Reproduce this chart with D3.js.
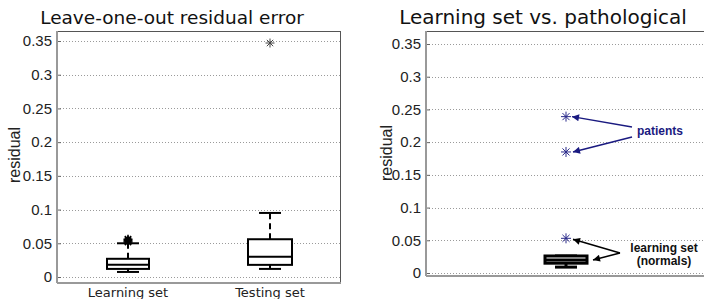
<!DOCTYPE html>
<html>
<head>
<meta charset="utf-8">
<script src="https://cdn.jsdelivr.net/npm/d3@7"></script>
<style>
  body { margin: 0; background: #fff; }
  svg { display: block; }
  .tick text { font-family: "Liberation Sans", Arial, sans-serif; font-size: 15px; fill: #222; }
  .title { font-family: "DejaVu Sans", sans-serif; fill: #111; }
  .ylab { font-family: "Liberation Sans", Arial, sans-serif; font-size: 16px; fill: #222; }
  .xlab { font-family: "DejaVu Sans", sans-serif; font-size: 13px; fill: #222; }
  .note { font-family: "Liberation Sans", Arial, sans-serif; font-size: 12px; font-weight: bold; }
</style>
</head>
<body>
<svg id="chart" width="704" height="299"></svg>
<script>
// left panel: leave-one-out residuals, [lowWhisker, q1, median, q3, highWhisker]
var categories = ["Learning set", "Testing set"];
var learnBox = [0.0075, 0.012, 0.018, 0.027, 0.050];
var testBox = [0.012, 0.018, 0.030, 0.056, 0.095];
var learnOutliers = [0.052, 0.054, 0.056];
var testOutliers = [0.347];

// right panel: learning set vs pathological
var normalsBox = [0.009, 0.015, 0.020, 0.026, 0.026];
var normalsOutliers = [0.053];
var patients = [0.239, 0.185];

var yTicks = [0, 0.05, 0.1, 0.15, 0.2, 0.25, 0.3, 0.35];

var svg = d3.select("#chart");

function star(g, cx, cy, r, color, sw) {
  var d = "";
  for (var i = 0; i < 4; i++) {
    var a = i * Math.PI / 4;
    d += "M" + (cx - r * Math.cos(a)) + "," + (cy - r * Math.sin(a)) +
         "L" + (cx + r * Math.cos(a)) + "," + (cy + r * Math.sin(a));
  }
  g.append("path").attr("d", d).attr("stroke", color).attr("stroke-width", sw).attr("fill", "none");
}

function panel(opt) {
  var g = svg.append("g");
  var x = d3.scaleLinear().domain(opt.xdom).range([opt.left, opt.right]);
  var y = d3.scaleLinear().domain([0, 0.35]).range([opt.y0, opt.y35]);

  // grid
  g.selectAll(".grid").data(yTicks).enter().append("line")
    .attr("x1", opt.left).attr("x2", opt.right)
    .attr("y1", function(d){ return Math.round(y(d)) + 0.5; })
    .attr("y2", function(d){ return Math.round(y(d)) + 0.5; })
    .attr("stroke", "#9a9a9a").attr("stroke-width", 1).attr("stroke-dasharray", "1,2");

  // axis
  var ax = g.append("g").attr("transform", "translate(" + opt.left + ",0)")
    .call(d3.axisLeft(y).tickValues(yTicks).tickFormat(d3.format("~g")).tickSizeInner(-4).tickSizeOuter(0).tickPadding(5));
  ax.select(".domain").remove();
  ax.selectAll(".tick line").attr("stroke", "#666");

  // box frame
  g.append("rect").attr("x", opt.left + 0.5).attr("y", opt.top + 0.5)
    .attr("width", opt.right - opt.left - 1).attr("height", opt.bottom - opt.top - 1)
    .attr("fill", "none").attr("stroke", "#555").attr("stroke-width", 1);
  g.append("line").attr("x1", opt.left).attr("x2", opt.left)
    .attr("y1", opt.top).attr("y2", opt.bottom).attr("stroke", "#999").attr("stroke-width", 2);
  g.append("line").attr("x1", opt.left).attr("x2", opt.right)
    .attr("y1", opt.bottom).attr("y2", opt.bottom).attr("stroke", "#999").attr("stroke-width", 2);

  g.append("text").attr("class", "title").attr("x", opt.titleX).attr("y", 24)
    .attr("font-size", opt.titleSize).attr("text-anchor", "middle").text(opt.title);
  g.append("text").attr("class", "ylab")
    .attr("transform", "translate(" + opt.ylabX + "," + opt.ylabY + ") rotate(-90)")
    .attr("text-anchor", "middle").text("residual");
  return { g: g, x: x, y: y };
}

function boxplot(p, pos, b, half, cap, sw) {
  var cx = p.x(pos), y = p.y;
  p.g.append("line").attr("x1", cx).attr("x2", cx).attr("y1", y(b[3])).attr("y2", y(b[4]))
    .attr("stroke", "#000").attr("stroke-width", sw).attr("stroke-dasharray", "6,4");
  p.g.append("line").attr("x1", cx).attr("x2", cx).attr("y1", y(b[1])).attr("y2", y(b[0]))
    .attr("stroke", "#000").attr("stroke-width", sw).attr("stroke-dasharray", "6,4");
  [b[0], b[4]].forEach(function(v){
    p.g.append("line").attr("x1", cx - cap).attr("x2", cx + cap).attr("y1", y(v)).attr("y2", y(v))
      .attr("stroke", "#000").attr("stroke-width", sw);
  });
  p.g.append("rect").attr("x", cx - half).attr("y", y(b[3])).attr("width", 2 * half)
    .attr("height", y(b[1]) - y(b[3])).attr("fill", "#fff").attr("stroke", "#000").attr("stroke-width", sw);
  p.g.append("line").attr("x1", cx - half).attr("x2", cx + half).attr("y1", y(b[2])).attr("y2", y(b[2]))
    .attr("stroke", "#000").attr("stroke-width", sw);
}

// left panel
var L = panel({ left: 57, right: 341, top: 31, bottom: 283, y0: 277, y35: 41,
  xdom: [0.5, 2.5], title: "Leave-one-out residual error", titleX: 172, titleSize: 18.5,
  ylabX: 20, ylabY: 155 });
boxplot(L, 1, learnBox, 21, 11, 2);
boxplot(L, 2, testBox, 22, 11, 2);
learnOutliers.forEach(function(v){ star(L.g, L.x(1), L.y(v), 4.5, "#000", 1.6); });
testOutliers.forEach(function(v){ star(L.g, L.x(2), L.y(v), 4.5, "#444", 1); });
categories.forEach(function(c, i){
  L.g.append("text").attr("class", "xlab").attr("x", L.x(i + 1)).attr("y", 297)
    .attr("text-anchor", "middle").text(c);
});

// right panel
var R = panel({ left: 426, right: 706, top: 31, bottom: 276, y0: 273, y35: 44,
  xdom: [0.5, 1.5], title: "Learning set vs. pathological", titleX: 543, titleSize: 20,
  ylabX: 392, ylabY: 153 });
boxplot(R, 1, normalsBox, 21, 11, 3);
normalsOutliers.concat(patients).forEach(function(v){ star(R.g, R.x(1), R.y(v), 5, "#2a2a8a", 1); });

// annotations
var defs = svg.append("defs");
[["arrNavy", "#1a1a80"], ["arrBlack", "#000"]].forEach(function(m){
  defs.append("marker").attr("id", m[0]).attr("viewBox", "0 0 10 10").attr("refX", 10).attr("refY", 5)
    .attr("markerWidth", 10).attr("markerHeight", 7).attr("orient", "auto")
    .attr("markerUnits", "userSpaceOnUse")
    .append("path").attr("d", "M0,0 L10,5 L0,10 Z").attr("fill", m[1]);
});
var cx = R.x(1);
function arrow(x1, y1, x2, y2, color, mk) {
  R.g.append("line").attr("x1", x1).attr("y1", y1).attr("x2", x2).attr("y2", y2)
    .attr("stroke", color).attr("stroke-width", 1.5).attr("marker-end", "url(#" + mk + ")");
}
arrow(632, 127, cx + 6, R.y(patients[0]), "#1a1a80", "arrNavy");
arrow(632, 137, cx + 7, R.y(patients[1]), "#1a1a80", "arrNavy");
R.g.append("text").attr("class", "note").attr("x", 637).attr("y", 135).attr("fill", "#1a1a80").text("patients");
arrow(620, 253, cx + 7, R.y(normalsOutliers[0]) + 1, "#000", "arrBlack");
arrow(620, 253, cx + 27, R.y(normalsBox[2]), "#000", "arrBlack");
R.g.append("text").attr("class", "note").attr("x", 664).attr("y", 252).attr("text-anchor", "middle").attr("fill", "#111").text("learning set");
R.g.append("text").attr("class", "note").attr("x", 664).attr("y", 265).attr("text-anchor", "middle").attr("fill", "#111").text("(normals)");
</script>
</body>
</html>
